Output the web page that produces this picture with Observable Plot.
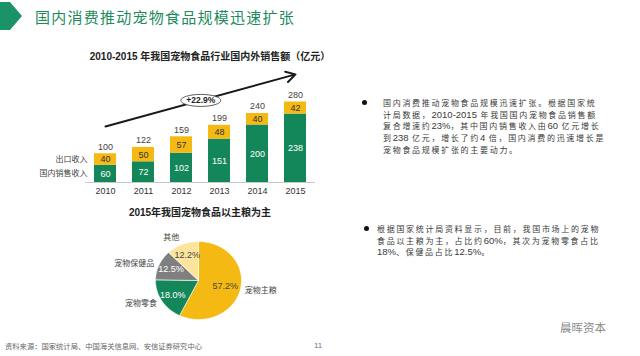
<!DOCTYPE html>
<html><head><meta charset="utf-8">
<script src="https://cdn.jsdelivr.net/npm/d3@7"></script>
<script src="https://cdn.jsdelivr.net/npm/@observablehq/plot@0.6"></script>
<style>
body{margin:0;width:640px;height:356px;position:relative;background:#fff;overflow:hidden;font-family:"Noto Sans CJK SC",sans-serif;}
.abs{position:absolute;white-space:nowrap;}
#title{left:35px;top:7px;font-size:15px;line-height:20px;letter-spacing:1.25px;color:#1d8a5c;}
.ctitle{font-family:"Liberation Sans","Noto Sans CJK SC",sans-serif;font-weight:bold;font-size:10px;line-height:14px;color:#222;transform:translateX(-50%);}
.para{font-family:"Noto Sans CJK SC",sans-serif;font-size:8px;line-height:11.7px;color:#3a3a3a;letter-spacing:1.7px;}
.para b{font-family:"Liberation Sans",sans-serif;font-weight:normal;font-size:9.5px;letter-spacing:0;}
.bullet{width:5px;height:5px;border-radius:50%;background:#111;}
#footer{left:5px;top:341px;font-size:7.3px;line-height:10px;color:#666;}
#page{left:314px;top:341px;font-size:8px;line-height:10px;color:#777;font-family:"Liberation Sans",sans-serif;}
#wm{left:560px;top:319px;font-size:11.5px;line-height:16px;color:#8a8a8a;}
</style></head><body>
<svg class="abs" style="left:0;top:2px" width="24" height="30"><polygon points="0,0 10,0 22,14 10,28 0,28" fill="#1a9466"/></svg>
<div id="title" class="abs">国内消费推动宠物食品规模迅速扩张</div>
<div class="abs ctitle" style="left:210px;top:50px">2010-2015 年我国宠物食品行业国内外销售额（亿元）</div>
<div id="bar" class="abs" style="left:0;top:40px"></div>
<div class="abs ctitle" style="left:200px;top:206px">2015年我国宠物食品以主粮为主</div>
<div id="pie" class="abs" style="left:100px;top:222px"></div>
<div class="abs bullet" style="left:362px;top:100px"></div>
<div class="abs para" style="left:383px;top:97px">国内消费推动宠物食品规模迅速扩张。根据国家统<br>计局数据，<b>2010-2015</b> 年我国国内宠物食品销售额<br>复合增速约<b>23%</b>，其中国内销售收入由<b>60</b> 亿元增长<br>到<b>238</b> 亿元，增长了约<b>4</b> 倍，国内消费的迅速增长是<br>宠物食品规模扩张的主要动力。</div>
<div class="abs bullet" style="left:364px;top:226px"></div>
<div class="abs para" style="left:377px;top:223px">根据国家统计局资料显示，目前，我国市场上的宠物<br>食品以主粮为主，占比约<b>60%</b>，其次为宠物零食占比<br><b>18%</b>、保健品占比<b>12.5%</b>。</div>
<div id="footer" class="abs">资料来源：国家统计局、中国海关信息网、安信证券研究中心</div>
<div id="page" class="abs">11</div>
<div id="wm" class="abs">晨晖资本</div>
<script>
// ---- data ----
const years = ["2010","2011","2012","2013","2014","2015"];
const domestic = [60,72,102,151,200,238];
const exportRev = [40,50,57,48,40,42];
const totals = [100,122,159,199,240,280];
const seriesNames = ["国内销售收入","出口收入"];
const growthLabel = "+22.9%";
const growthArrow = [{from:"2010", y1:195, to:"2015", y2:376}];
const pieCats = ["宠物主粮","宠物零食","宠物保健品","其他"];
const pieShares = [57.2,18.0,12.5,12.2];
const pieLabels = ["57.2%","18.0%","12.5%","12.2%"];

const green = "#13875a", yellow = "#f5b913", gray = "#7f7f7f", lightYellow = "#fde49d";
const cjk = "Noto Sans CJK SC";
const num = "Liberation Sans";

// ---- bar chart ----
const barTable = years.map((y,i)=>({year:y, domestic:domestic[i], exp:exportRev[i], total:totals[i]}));
const rows = barTable.flatMap(d=>[{year:d.year, series:seriesNames[0], value:d.domestic},{year:d.year, series:seriesNames[1], value:d.exp}]);

const ellipseSymbol = {draw(ctx){const rx=20, ry=6, k=0.5523;
  ctx.moveTo(rx,0); ctx.bezierCurveTo(rx,ry*k,rx*k,ry,0,ry); ctx.bezierCurveTo(-rx*k,ry,-rx,ry*k,-rx,0);
  ctx.bezierCurveTo(-rx,-ry*k,-rx*k,-ry,0,-ry); ctx.bezierCurveTo(rx*k,-ry,rx,-ry*k,rx,0); ctx.closePath();}};
const mid = growthArrow.map(a=>({x:"2012", y:(a.y1+a.y2)/2, label:growthLabel}));

const bar = Plot.plot({
  width:330, height:160, marginLeft:85, marginRight:15, marginTop:27, marginBottom:18,
  x:{type:"band", domain:years, paddingInner:0.43, paddingOuter:0.195, label:null, tickSize:0, tickPadding:5},
  y:{domain:[0,400], axis:null},
  color:{domain:seriesNames, range:[green, yellow]},
  style:{fontFamily:num, fontSize:"9px", color:"#333", overflow:"visible", background:"transparent"},
  marks:[
    Plot.barY(rows, {x:"year", y:"value", fill:"series"}),
    Plot.ruleY([0], {stroke:"#c8c8c8"}),
    Plot.text(barTable, {x:"year", y:d=>d.domestic/2, text:d=>d.domestic, fill:"white", fontSize:9}),
    Plot.text(barTable, {x:"year", y:d=>d.domestic+d.exp/2, text:d=>d.exp, fill:"#333", fontSize:9}),
    Plot.text(barTable, {x:"year", y:"total", text:"total", fill:"#444", dy:-7, fontSize:9}),
    Plot.text(barTable.slice(0,1), {x:"year", y:d=>d.domestic/2, text:()=>seriesNames[0], textAnchor:"end", dx:-18, fontFamily:cjk, fontSize:8, fill:"#444"}),
    Plot.text(barTable.slice(0,1), {x:"year", y:d=>d.domestic+d.exp/2, text:()=>seriesNames[1], textAnchor:"end", dx:-18, fontFamily:cjk, fontSize:8, fill:"#444"}),
    Plot.arrow(growthArrow, {x1:"from", y1:"y1", x2:"to", y2:"y2", stroke:"#1a1a1a", strokeWidth:2, headLength:8}),
    Plot.dot(mid, {x:"x", y:"y", dx:19.3, symbol:ellipseSymbol, fill:"white", stroke:"#333", strokeWidth:0.8}),
    Plot.text(mid, {x:"x", y:"y", dx:19.3, text:"label", fontSize:8.5, fontWeight:"bold", fill:"#222"})
  ]
});
document.getElementById("bar").append(bar);

// ---- pie chart ----
const pieTable = pieCats.map((c,i)=>({cat:c, share:pieShares[i], label:pieLabels[i]}));
const arcs = d3.pie().sort(null).value(d=>d.share)(pieTable);
const slicePts = arcs.flatMap(a=>{
  const n = Math.max(2, Math.ceil((a.endAngle-a.startAngle)/0.02));
  const p = [{cat:a.data.cat, x:0, y:0}];
  for (let i=0;i<=n;i++){const t=a.startAngle+(a.endAngle-a.startAngle)*i/n; p.push({cat:a.data.cat, x:Math.sin(t), y:Math.cos(t)});}
  p.push({cat:a.data.cat, x:0, y:0});
  return p;
});
const labelInfo = arcs.map(a=>{
  const t=(a.startAngle+a.endAngle)/2, s=Math.sin(t), c=Math.cos(t);
  const ri = a.data.share>50 ? 0.64 : 0.7;
  const ro = 1.1 + 0.12*c*c;
  return {cat:a.data.cat, label:a.data.label, ix:s*ri, iy:c*ri, ox:s*ro, oy:c*ro,
    anchor: s>0.3 ? "start" : (s<-0.3 ? "end" : "middle"),
    light: a.data.cat===pieCats[1] || a.data.cat===pieCats[2]};
});
const pie = Plot.plot({
  width:200, height:110, marginLeft:55, marginRight:59, marginTop:19, marginBottom:13,
  x:{domain:[-1,1], axis:null}, y:{domain:[-1,1], axis:null},
  color:{domain:pieCats, range:[yellow, green, gray, lightYellow]},
  style:{fontFamily:num, fontSize:"9px", overflow:"visible", background:"transparent"},
  marks:[
    Plot.line(slicePts, {x:"x", y:"y", z:"cat", fill:"cat", stroke:"white", strokeWidth:0.6, curve:"linear"}),
    Plot.text(labelInfo, {x:"ix", y:"iy", text:"label", fill:d=>d.light?"white":"#444", fontSize:9}),
    Plot.text(labelInfo.filter(d=>d.anchor==="start"), {x:"ox", y:"oy", text:"cat", textAnchor:"start", fontFamily:cjk, fontSize:8, fill:"#444"}),
    Plot.text(labelInfo.filter(d=>d.anchor==="end"), {x:"ox", y:"oy", text:"cat", textAnchor:"end", fontFamily:cjk, fontSize:8, fill:"#444"}),
    Plot.text(labelInfo.filter(d=>d.anchor==="middle"), {x:"ox", y:"oy", text:"cat", fontFamily:cjk, fontSize:8, fill:"#444"})
  ]
});
document.getElementById("pie").append(pie);
</script>
</body></html>
